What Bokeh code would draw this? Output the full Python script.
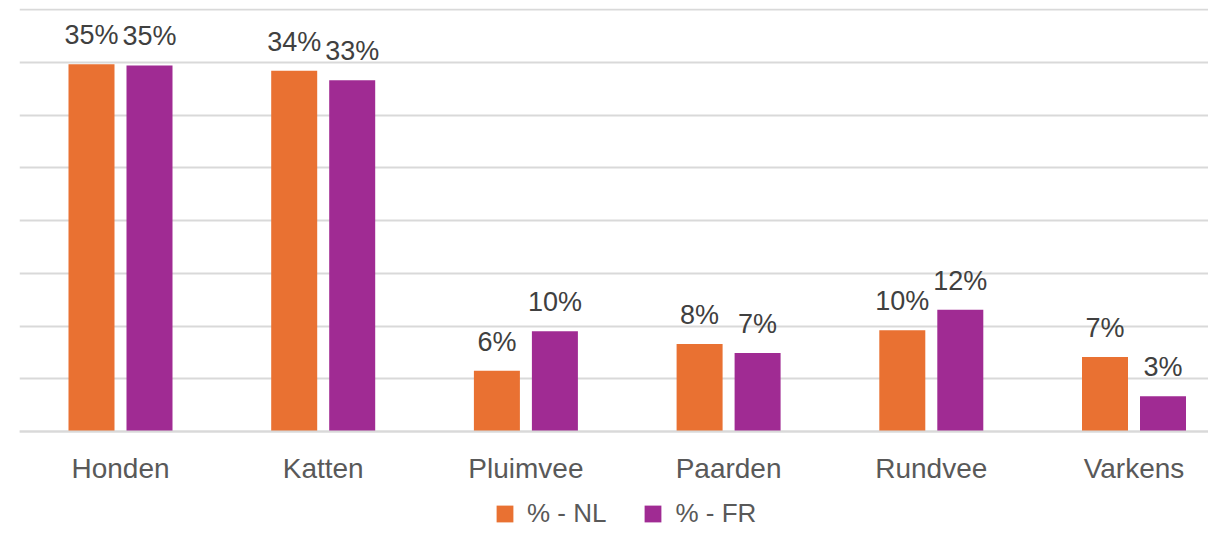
from bokeh.plotting import figure
from bokeh.models import (ColumnDataSource, Range1d, FixedTicker, Legend, LegendItem,
                          LinearAxis)
from bokeh.transform import dodge
from bokeh.core.properties import value
from bokeh.embed import file_html
from bokeh.resources import INLINE

# ---- data ----
categories = ["Honden", "Katten", "Pluimvee", "Paarden", "Rundvee", "Varkens"]
pct_nl = [34.8, 34.2, 5.75, 8.3, 9.6, 7.05]
pct_fr = [34.7, 33.3, 9.5, 7.45, 11.55, 3.35]
series_names = ["% - NL", "% - FR"]
y_ticks = [0, 5, 10, 15, 20, 25, 30, 35, 40]

def lab(v):
    return f"{int(v + 0.5)}%"

idx = list(range(len(categories)))
src = ColumnDataSource(dict(
    x=idx, nl=pct_nl, fr=pct_fr,
    nl_lab=[lab(v) for v in pct_nl], fr_lab=[lab(v) for v in pct_fr],
))

FONT = "Liberation Sans"
ORANGE = "#E97132"
PURPLE = "#A02B93"
GRID = "#D9D9D9"

px_per_cat = 202.7
px_per_pct = 10.55
x_start = -101 / px_per_cat
frame_w = 1189
frame_h = 520
y_top = 40 + 1 / px_per_pct
p = figure(
    output_backend="svg", toolbar_location=None,
    frame_width=frame_w, frame_height=frame_h,
    min_border_left=19, min_border_right=0, min_border_top=8, min_border_bottom=0,
    x_range=Range1d(x_start, x_start + frame_w / px_per_cat),
    y_range=Range1d(y_top - frame_h / px_per_pct, y_top),
    x_axis_location=None, y_axis_location=None,
    outline_line_color=None,
)
p.background_fill_color = "white"
p.border_fill_color = "white"

off = 29 / px_per_cat
bw = 46 / px_per_cat
r_nl = p.vbar(x=dodge("x", -off), top="nl", bottom=0, width=bw, source=src,
              fill_color=ORANGE, line_color=None)
r_fr = p.vbar(x=dodge("x", off), top="fr", bottom=0, width=bw, source=src,
              fill_color=PURPLE, line_color=None)

for col, labcol, dx in (("nl", "nl_lab", -off), ("fr", "fr_lab", off)):
    p.text(x=dodge("x", dx), y=col, text=labcol, source=src,
           text_align="center", text_baseline="alphabetic", y_offset=-29,
           text_font=value(FONT), text_font_size="27px", text_color="#404040")

# grid
p.ygrid.ticker = FixedTicker(ticks=y_ticks)
p.ygrid.grid_line_color = GRID
p.ygrid.grid_line_width = 2
p.xgrid.grid_line_color = None

# category axis sitting on the zero line
xa = LinearAxis(fixed_location=0, ticker=FixedTicker(ticks=idx))
xa.major_label_overrides = {i: c for i, c in enumerate(categories)}
xa.major_tick_line_color = None
xa.minor_tick_line_color = None
xa.axis_line_color = GRID
xa.axis_line_width = 2
xa.major_label_standoff = 15
xa.major_label_text_font = FONT
xa.major_label_text_font_size = "28px"
xa.major_label_text_color = "#595959"
p.add_layout(xa, "below")

legend = Legend(
    items=[LegendItem(label=series_names[0], renderers=[r_nl]),
           LegendItem(label=series_names[1], renderers=[r_fr])],
    orientation="horizontal", location=(475, -1),
    glyph_width=21, glyph_height=21, label_standoff=12, spacing=36,
    padding=0, margin=0, border_line_color=None, background_fill_alpha=0,
    label_text_font=FONT, label_text_font_size="26px", label_text_color="#595959",
)
p.add_layout(legend, "center")

open("out.html", "w").write(file_html(p, INLINE))
